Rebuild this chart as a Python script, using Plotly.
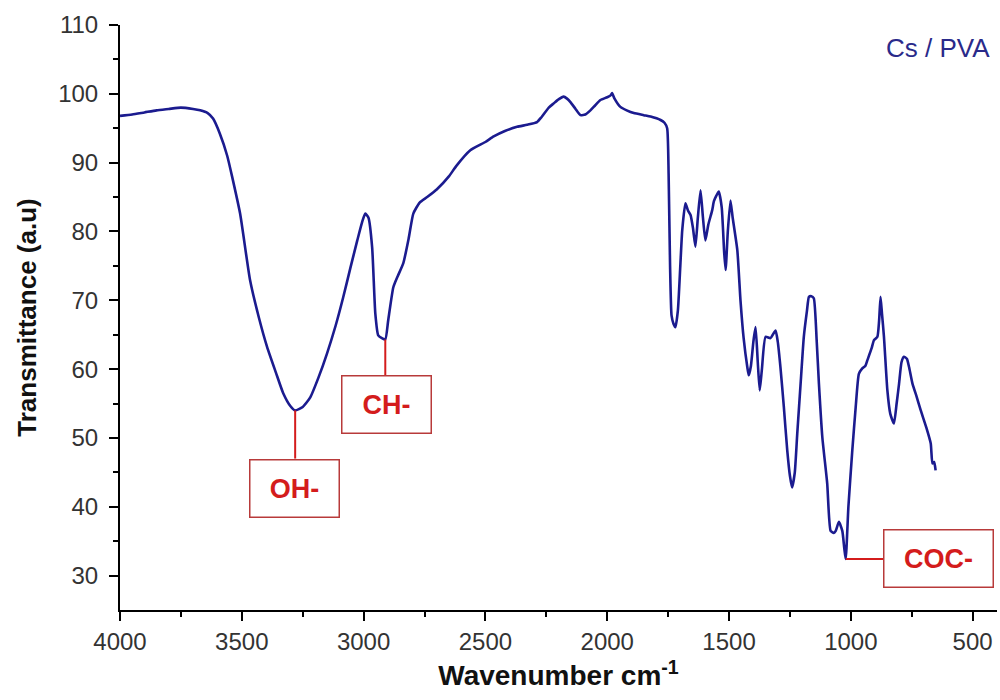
import plotly.graph_objects as go

wavenumber = [4000, 3950, 3900, 3850, 3800, 3750, 3700, 3671, 3640, 3618, 3590, 3560, 3540, 3507,
              3466, 3430, 3396, 3360, 3330, 3300, 3281, 3250, 3219, 3185, 3150, 3115, 3084, 3055,
              3026, 3005, 2993, 2980, 2965, 2952, 2940, 2925, 2911, 2899, 2878, 2860, 2837, 2815,
              2796, 2770, 2739, 2700, 2650, 2620, 2562, 2500, 2466, 2420, 2370, 2329, 2288, 2270,
              2240, 2220, 2200, 2179, 2165, 2151, 2130, 2110, 2090, 2069, 2050, 2028, 2000, 1985,
              1980, 1970, 1946, 1920, 1891, 1850, 1822, 1781, 1765, 1754, 1748, 1742, 1736, 1728,
              1720, 1710, 1700, 1692, 1679, 1668, 1658, 1648, 1638, 1628, 1617, 1607, 1597, 1585,
              1569, 1562, 1552, 1542, 1530, 1520, 1514, 1505, 1494, 1485, 1466, 1453, 1440, 1425,
              1419, 1410, 1400, 1391, 1382, 1374, 1365, 1350, 1330, 1309, 1300, 1289, 1275, 1261,
              1250, 1241, 1230, 1220, 1205, 1193, 1180, 1172, 1162, 1152, 1140, 1131, 1117, 1097,
              1083, 1070, 1062, 1049, 1035, 1027, 1021, 1010, 994, 980, 967, 953, 940, 932, 915,
              905, 891, 884, 878, 872, 864, 850, 838, 823, 812, 802, 792, 782, 770, 761, 747, 730,
              713, 690, 672, 665, 658, 652]
transmittance = [96.8, 97.0, 97.3, 97.6, 97.8, 98.0, 97.8, 97.6, 97.2, 96.4, 94.2, 91.0, 88.0, 82.6,
                 72.9, 67.5, 63.2, 59.5, 56.5, 54.6, 54.0, 54.5, 55.9, 58.8, 62.3, 66.3, 70.4, 74.6,
                 78.7, 81.5, 82.6, 82.0, 77.7, 68.1, 64.9, 64.5, 64.3, 67.1, 71.9, 73.5, 75.4, 79.0,
                 82.6, 84.2, 85.0, 86.1, 88.0, 89.5, 91.8, 93.0, 93.8, 94.6, 95.2, 95.5, 95.9, 96.6,
                 98.0, 98.6, 99.2, 99.6, 99.3, 98.8, 97.8, 96.9, 97.0, 97.6, 98.3, 99.1, 99.5, 99.8,
                 100.1, 99.3, 98.1, 97.6, 97.2, 96.9, 96.7, 96.2, 95.8, 95.0, 88.4, 75.0, 67.8, 66.6,
                 66.1, 68.5, 75.0, 80.2, 84.1, 83.0, 82.4, 80.5, 77.8, 82.0, 86.0, 82.0, 78.7, 81.0,
                 83.1, 84.4, 85.2, 85.8, 83.5, 77.0, 74.4, 80.0, 84.5, 82.0, 77.3, 70.0, 64.5, 60.3,
                 59.1, 60.5, 64.0, 66.1, 61.0, 56.9, 60.0, 64.7, 64.5, 65.6, 64.0, 60.3, 54.5, 48.2,
                 44.5, 42.8, 45.0, 50.6, 58.5, 64.7, 68.5, 70.5, 70.6, 70.3, 64.0, 57.9, 50.1, 43.4,
                 36.5, 36.2, 36.5, 37.8, 36.5, 34.0, 32.4, 40.0, 48.2, 54.5, 59.3, 60.1, 60.5, 61.3, 63.0,
                 64.2, 64.7, 67.0, 70.5, 68.0, 64.7, 56.9, 53.5, 52.1, 55.0, 57.9, 61.0, 61.8, 61.5, 60.3, 57.9, 56.0,
                 54.0, 51.5, 49.2, 46.3, 46.5, 45.3]

band_labels = ["OH-", "CH-", "COC-"]
band_wn = [3281, 2911, 1021]
band_T = [54.0, 64.3, 32.4]

series_name = "Cs / PVA"

LINE = "#1b1b8f"
RED = "#d41c1c"
BOX = "#b83a3a"
FONT = "Arial, Liberation Sans"

fig = go.Figure()
fig.add_trace(go.Scatter(x=wavenumber, y=transmittance, mode="lines",
                         line=dict(color=LINE, width=2.6, shape="spline", smoothing=0.5),
                         name=series_name, showlegend=False))

# connectors (vertical for OH-, CH-; horizontal for COC-)
fig.add_shape(type="line", x0=band_wn[0], x1=band_wn[0], y0=band_T[0], y1=47.0,
              line=dict(color=RED, width=2))
fig.add_shape(type="line", x0=band_wn[1], x1=band_wn[1], y0=band_T[1], y1=59.1,
              line=dict(color=RED, width=2))
fig.add_shape(type="line", x0=band_wn[2], x1=865, y0=band_T[2], y1=band_T[2],
              line=dict(color=RED, width=2))

box_pos = [(3285, 42.7, 86), (2907, 54.9, 86), (639, 32.5, 106)]
for lab, (bx, by, bw) in zip(band_labels, box_pos):
    fig.add_annotation(x=bx, y=by, text="<b>%s</b>" % lab, showarrow=False,
                       font=dict(family=FONT, size=27, color=RED),
                       bordercolor=BOX, borderwidth=1.5, bgcolor="white",
                       width=bw, height=54, align="center", valign="middle")

fig.add_annotation(x=1.0 - (997 - 992) / 877, y=1 + (25 - 48) / 585, xref="paper", yref="paper",
                   text=series_name, showarrow=False, xanchor="right", yanchor="middle",
                   font=dict(family=FONT, size=26, color="#2a2a8a"))

fig.update_layout(
    width=1000, height=700,
    margin=dict(l=120, r=3, t=25, b=90),
    plot_bgcolor="white", paper_bgcolor="white",
    font=dict(family=FONT, color="#333333"),
)
fig.update_xaxes(range=[4000, 400], tickvals=[4000, 3500, 3000, 2500, 2000, 1500, 1000, 500],
                 showline=True, linecolor="black", linewidth=2, ticks="outside", ticklen=9,
                 tickwidth=2, tickcolor="black", showgrid=False, zeroline=False,
                 minor=dict(tickvals=[3750, 3250, 2750, 2250, 1750, 1250, 750], ticks="outside",
                            ticklen=5, tickwidth=2, tickcolor="black"),
                 tickfont=dict(size=24, color="#333333"),
                 title=dict(text="<b>Wavenumber cm<sup>-1</sup></b>", standoff=12,
                            font=dict(size=28, color="#111111")))
fig.update_yaxes(range=[25, 110], tickvals=[30, 40, 50, 60, 70, 80, 90, 100, 110],
                 showline=True, linecolor="black", linewidth=2, ticks="outside", ticklen=9,
                 tickwidth=2, tickcolor="black", showgrid=False, zeroline=False,
                 minor=dict(tickvals=[35, 45, 55, 65, 75, 85, 95, 105], ticks="outside",
                            ticklen=5, tickwidth=2, tickcolor="black"),
                 tickfont=dict(size=24, color="#333333"), ticklabelstandoff=6,
                 title=dict(text="<b>Transmittance (a.u)</b>", standoff=14,
                            font=dict(size=26, color="#111111")))

fig.write_html("out.html")
